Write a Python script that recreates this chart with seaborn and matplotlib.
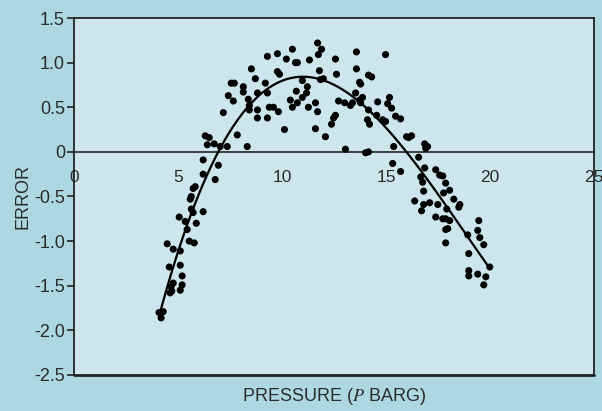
import numpy as np
import pandas as pd
import matplotlib
matplotlib.use("Agg")
import matplotlib.pyplot as plt
import seaborn as sns

pressure = [
    4.09, 4.29, 4.19, 4.48, 4.77, 5.11, 4.58, 5.11, 5.20, 4.77, 4.67, 5.20, 4.62, 4.70, 5.11,
    5.06, 5.35, 5.88, 6.21, 5.44, 5.54, 5.78, 5.64, 5.73, 5.59, 5.64, 5.73, 5.83, 6.21, 6.79,
    6.21, 6.94, 6.31, 6.50, 6.41, 6.74, 7.03, 7.37, 7.18, 7.42, 7.56, 7.71, 7.66, 7.85,
    8.14, 8.14, 8.38, 8.43, 8.43, 8.53, 8.72, 8.82, 8.82, 8.82, 8.33, 9.20, 9.30, 9.30, 9.30,
    9.39, 9.59, 9.78, 9.78, 9.88, 9.83, 10.12, 10.21, 10.40, 10.50, 10.50, 10.65, 10.74, 10.69,
    10.74, 10.98, 10.98, 11.18, 11.22, 11.27, 11.32, 11.61, 11.61, 11.71, 11.71, 11.75, 11.80,
    11.85, 11.99, 11.90, 12.09, 12.38, 12.48, 12.57, 12.57, 12.62, 12.72, 13.01, 13.05, 13.29,
    13.39, 13.54, 13.58, 13.58, 13.73, 13.78, 13.73, 13.87, 13.78,
    14.02, 14.16, 14.11, 14.21, 14.16, 14.16, 14.31, 14.55, 14.60, 14.84, 14.98, 14.98, 15.08,
    15.17, 15.27, 15.46, 15.70, 15.37, 15.32, 15.70, 15.99, 16.23, 16.09, 16.57, 16.86, 17.00,
    16.91, 16.86, 16.67, 16.76, 16.81, 17.39, 17.58, 17.73, 17.87, 18.06, 17.77, 18.26, 16.38,
    16.81, 16.71, 17.10, 17.49, 17.92, 18.50, 18.55, 17.39, 17.73, 17.87, 18.06, 17.87, 17.97,
    17.87, 18.93, 19.46, 19.41, 19.51, 19.70, 18.98, 19.99, 18.98, 18.98, 19.41, 19.80, 19.70,
]
error = [
    -1.80, -1.79, -1.86, -1.03, -1.09, -1.11, -1.29, -1.27, -1.39, -1.47, -1.51, -1.49, -1.58, -1.56, -1.55,
    -0.73, -0.78, -0.80, -0.67, -0.87, -1.00, -1.02, -0.64, -0.68, -0.53, -0.50, -0.41, -0.39, -0.25, -0.31,
    -0.09, -0.15, 0.18, 0.16, 0.08, 0.09, 0.06, 0.06, 0.44, 0.63, 0.77, 0.77, 0.57, 0.19,
    0.73, 0.67, 0.59, 0.52, 0.47, 0.93, 0.82, 0.66, 0.47, 0.38, 0.06, 0.77, 1.07, 0.66, 0.38,
    0.50, 0.50, 1.10, 0.90, 0.87, 0.45, 0.25, 1.04, 0.58, 1.15, 0.50, 1.00, 1.00, 0.68,
    0.55, 0.80, 0.61, 0.66, 0.73, 0.50, 1.03, 0.55, 0.26, 1.22, 0.45, 1.09, 0.91,
    0.81, 0.82, 1.15, 0.17, 0.31, 0.38, 0.41, 1.04, 0.87, 0.57, 0.55, 0.03, 0.52,
    0.55, 0.66, 1.12, 0.93, 0.78, 0.76, 0.58, 0.61, 0.55,
    -0.01, 0.00, 0.36, 0.31, 0.47, 0.86, 0.84, 0.41, 0.56, 0.36, 0.34, 1.09, 0.54,
    0.61, 0.49, 0.40, 0.37, 0.06, -0.13, -0.22, 0.17, 0.18, 0.16, -0.06, 0.09, 0.06,
    0.04, -0.18, -0.28, -0.34, -0.44, -0.20, -0.26, -0.27, -0.35, -0.43, -0.46, -0.53, -0.55,
    -0.59, -0.66, -0.57, -0.59, -0.64, -0.62, -0.59, -0.73, -0.75, -0.75, -0.77, -0.87, -0.86,
    -1.02, -0.93, -0.77, -0.88, -0.96, -1.04, -1.14, -1.29, -1.33, -1.39, -1.37, -1.40, -1.49,
]

x_ticks = [0, 5, 10, 15, 20, 25]
y_ticks = [1.5, 1.0, 0.5, 0, -0.5, -1.0, -1.5, -2.0, -2.5]
y_tick_labels = ["1.5", "1.0", "0.5", "0", "-0.5", "-1.0", "-1.5", "-2.0", "-2.5"]

df = pd.DataFrame({"pressure": pressure, "error": error})

sns.set_theme(style="white")
plt.rcParams["font.family"] = ["Liberation Sans", "DejaVu Sans"]
plt.rcParams["mathtext.fontset"] = "stix"

outer_bg = "#add8e1"
inner_bg = "#cde6ed"
text_col = "#2b2b2b"

fig = plt.figure(figsize=(6.02, 4.11), dpi=100, facecolor=outer_bg)
ax = fig.add_axes([0.1229, 0.0876, 0.8638, 0.8686])
ax.set_facecolor(inner_bg)

sns.scatterplot(data=df, x="pressure", y="error", ax=ax, color="black",
                s=26, edgecolor="none", zorder=3)
# cubic trend line through the points
sns.regplot(data=df, x="pressure", y="error", ax=ax, order=3, ci=None,
            scatter=False, line_kws={"color": "black", "lw": 1.6, "zorder": 4})

ax.set_xlim(0, 25)
ax.set_ylim(-2.5, 1.5)

ax.set_yticks(y_ticks)
ax.set_yticklabels(y_tick_labels)
ax.set_xticks(x_ticks)
ax.set_xticklabels([str(t) for t in x_ticks])

# x axis sits on the zero line, ticks pointing up, labels below
for side in ["top", "right", "left", "bottom"]:
    ax.spines[side].set_color("#222222")
    ax.spines[side].set_linewidth(1.3)
ax.spines["bottom"].set_position(("data", 0))
ax.spines["bottom"].set_linewidth(1.2)
ax.axhline(-2.5, color="#222222", lw=2.0, clip_on=False, zorder=5)

ax.tick_params(axis="x", direction="in", length=4, width=1.2, color="#222222",
               pad=13, labelsize=12.5, labelcolor=text_col)
ax.tick_params(axis="y", direction="out", length=5, width=1.2, color="#222222",
               pad=1.5, labelsize=13, labelcolor=text_col, left=True)

ax.set_xlabel(r"PRESSURE ($P$ BARG)", fontsize=13, color=text_col, labelpad=0)
ax.set_ylabel("ERROR", fontsize=13, color=text_col, labelpad=2)
ax.xaxis.set_label_coords(0.5, -0.03)

fig.savefig("out.png", dpi=100, facecolor=outer_bg)
